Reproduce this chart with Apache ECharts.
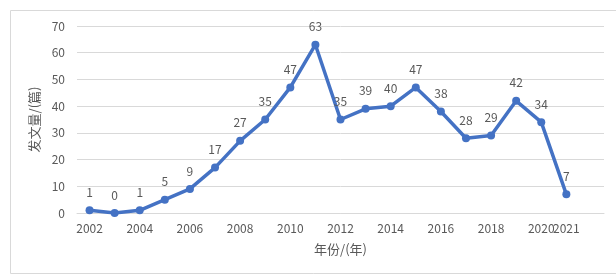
<!DOCTYPE html>
<html>
<head>
<meta charset="utf-8">
<script src="https://cdn.jsdelivr.net/npm/echarts@6/dist/echarts.min.js"></script>
<style>
  html, body { margin: 0; padding: 0; background: #fff; }
  #chart { width: 616px; height: 275px; }
</style>
</head>
<body>
<div id="chart"></div>
<script>
const years = [2002, 2003, 2004, 2005, 2006, 2007, 2008, 2009, 2010, 2011,
  2012, 2013, 2014, 2015, 2016, 2017, 2018, 2019, 2020, 2021];
const papers = [1, 0, 1, 5, 9, 17, 27, 35, 47, 63, 35, 39, 40, 47, 38, 28, 29, 42, 34, 7];
const xLabelYears = [2002, 2004, 2006, 2008, 2010, 2012, 2014, 2016, 2018, 2020, 2021];

const font = '"Noto Sans CJK SC", "Noto Sans", sans-serif';
const grey = '#595959';

const chart = echarts.init(document.getElementById('chart'));
chart.setOption({
  animation: false,
  textStyle: { fontFamily: font },
  graphic: [{
    type: 'rect',
    shape: { x: 10.5, y: 10.5, width: 620, height: 263 },
    style: { fill: 'none', stroke: '#d9d9d9', lineWidth: 1 },
    silent: true
  }],
  grid: { left: 77, right: 12, top: 26, bottom: 62 },
  xAxis: {
    type: 'value',
    min: 2001.5,
    max: 2022.5,
    interval: 0.5,
    name: '年份/(年)',
    nameLocation: 'middle',
    nameGap: 30,
    nameTextStyle: { color: grey, fontSize: 13, fontFamily: font },
    axisLine: { show: true, lineStyle: { color: '#d9d9d9' } },
    axisTick: { show: false },
    splitLine: { show: false },
    axisLabel: {
      color: grey,
      fontSize: 12,
      margin: 9,
      showMinLabel: true,
      showMaxLabel: true,
      formatter: (v) => (xLabelYears.includes(v) ? String(v) : '')
    }
  },
  yAxis: {
    type: 'value',
    min: 0,
    max: 70,
    interval: 10,
    name: '发文量/(篇)',
    nameLocation: 'middle',
    nameGap: 34,
    nameRotate: 90,
    nameTextStyle: { color: grey, fontSize: 13, fontFamily: font },
    axisLine: { show: false },
    axisTick: { show: false },
    axisLabel: { color: grey, fontSize: 12, margin: 12 },
    splitLine: { lineStyle: { color: '#d9d9d9', width: 1 } }
  },
  series: [{
    type: 'line',
    data: years.map((y, i) => [y, papers[i]]),
    symbol: 'circle',
    symbolSize: 8,
    lineStyle: { color: '#4472C4', width: 3.5 },
    itemStyle: { color: '#4472C4' },
    label: {
      show: true,
      position: 'top',
      distance: 8,
      color: grey,
      fontSize: 12,
      formatter: (p) => p.value[1]
    }
  }]
});
</script>
</body>
</html>
